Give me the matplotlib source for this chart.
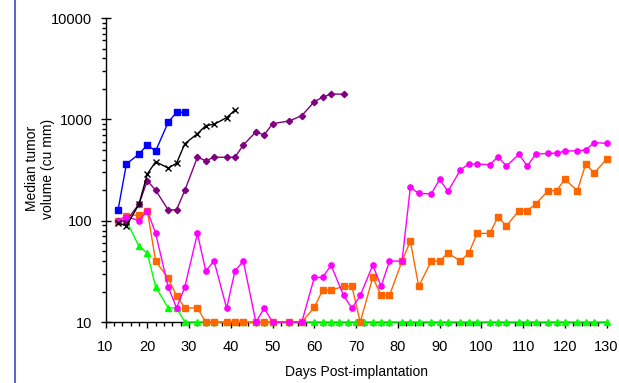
import matplotlib
matplotlib.use("Agg")
import matplotlib.pyplot as plt
from matplotlib.lines import Line2D
from matplotlib.ticker import LogLocator, FixedLocator, MultipleLocator, NullFormatter

plt.rcParams['font.family'] = ['Liberation Sans', 'DejaVu Sans']

# ---- data ----
blue_days = [13, 15, 18, 20, 22, 25, 27, 29]
blue_vals = [128, 363, 455, 559, 488, 936, 1175, 1175]

black_days = [13, 15, 18, 20, 22, 25, 27, 29, 32, 34, 36, 39, 41]
black_vals = [95, 89, 145, 289, 382, 331, 369, 576, 722, 866, 895, 1040, 1238]

purple_days = [13, 15, 18, 20, 22, 25, 27, 29, 32, 34, 36, 39, 41, 43, 46, 48, 50,
               54, 57, 60, 62, 64, 67]
purple_vals = [100, 100, 146, 248, 200, 128, 128, 200, 423, 391, 423, 423, 423, 559,
               751, 702, 907, 964, 1088, 1496, 1653, 1782, 1770]

green_days = [13, 15, 18, 20, 22, 25, 27, 29, 32, 34, 36, 39, 41, 43, 46, 48, 50, 54,
              57, 60, 62, 64, 66, 68, 70, 72, 74, 76, 78, 81, 83, 85, 88, 90, 92, 95,
              97, 99, 102, 104, 106, 109, 111, 113, 116, 118, 120, 123, 125, 127, 130]
green_vals = [100, 100, 56, 48, 22.3, 13.8, 13.8] + [10] * 44

orange_days = [13, 15, 18, 20, 22, 25, 27, 29, 32, 34, 36, 39, 41, 43, 46, 48, 50, 54,
               57, 60, 62, 64, 67, 69, 71, 74, 76, 78, 81, 83, 85, 88, 90, 92, 95, 97,
               99, 102, 104, 106, 109, 111, 113, 116, 118, 120, 123, 125, 127, 130]
orange_vals = [100, 112, 114, 126, 40, 27, 18.2, 13.8, 13.8, 10, 10, 10, 10, 10, 10,
               10, 10, 10, 10, 14, 20.7, 20.7, 22.5, 22.5, 10, 27.6, 18.3, 18.3, 40, 63,
               22.5, 40, 40, 48, 40, 48, 75, 75, 109, 89, 126, 126, 146, 198, 198, 256,
               198, 365, 294, 406]

pink_days = [13, 15, 18, 20, 22, 25, 27, 29, 32, 34, 36, 39, 41, 43, 46, 48, 50, 54, 57,
             60, 62, 64, 67, 69, 71, 74, 76, 78, 81, 83, 85, 88, 90, 92, 95, 97, 99,
             102, 104, 106, 109, 111, 113, 116, 118, 120, 123, 125, 127, 130]
pink_vals = [100, 110, 100, 126, 75, 22.3, 13.8, 22.3, 75, 32, 40, 13.7, 32, 40, 10,
             13.7, 10, 10, 10, 27.6, 27.6, 36.5, 18.3, 13.7, 18.3, 36.5, 22.5, 40, 40,
             214, 186, 184, 256, 195, 318, 363, 363, 357, 428, 347, 452, 347, 452, 463,
             463, 488, 488, 500, 590, 580]

x_ticks = [10, 20, 30, 40, 50, 60, 70, 80, 90, 100, 110, 120, 130]
y_ticks = [10, 100, 1000, 10000]
y_labels = ['10', '100', '1000', '10000']

# ---- figure ----
fig = plt.figure(figsize=(6.19, 3.83), dpi=100)
ax = fig.add_axes([0.1705, 0.159, 0.8095, 0.794])

ms = 3.8
ax.plot(green_days, green_vals, color='#00FF00', marker='^', ms=ms, lw=1, clip_on=False, zorder=3)
ax.plot(orange_days, orange_vals, color='#FF6600', marker='s', ms=ms, lw=1, clip_on=False, zorder=4)
ax.plot(pink_days, pink_vals, color='#FF00FF', marker='o', ms=ms, lw=1, clip_on=False, zorder=5)
ax.plot(purple_days, purple_vals, color='#800080', marker='D', ms=3.2, lw=1, clip_on=False, zorder=4)
ax.plot(black_days, black_vals, color='black', marker='x', ms=ms, mew=1, lw=1, clip_on=False, zorder=6)
ax.plot(blue_days, blue_vals, color='#0000FF', marker='s', ms=ms, lw=1, clip_on=False, zorder=6)

ax.set_yscale('log')
ax.set_ylim(10, 10000)
ax.set_xlim(10, 130)

ax.yaxis.set_major_locator(FixedLocator(y_ticks))
ax.set_yticklabels(y_labels)
ax.yaxis.set_minor_locator(LogLocator(base=10, subs=range(2, 10)))
ax.yaxis.set_minor_formatter(NullFormatter())
ax.set_xticks(x_ticks)
ax.xaxis.set_minor_locator(MultipleLocator(2))

for s in ['top', 'right']:
    ax.spines[s].set_visible(False)
for s in ['left', 'bottom']:
    ax.spines[s].set_linewidth(1.0)
    ax.spines[s].set_color('black')

ax.tick_params(axis='both', which='major', direction='out', length=4, width=1,
               labelsize=10.5)
ax.tick_params(axis='both', which='minor', direction='out', length=3, width=1)
ax.tick_params(axis='x', which='major', pad=9)
ax.tick_params(axis='y', which='major', direction='inout', length=7, pad=6)

ax.set_xlabel('Days Post-implantation', fontsize=10, labelpad=8)
ax.set_ylabel('Median tumor\nvolume (cu mm)', fontsize=10)
ax.yaxis.set_label_coords(-0.1, 0.505)

fig.add_artist(Line2D([14.5 / 619, 14.5 / 619], [0, 1], color='#4444CC', lw=1.2,
                      transform=fig.transFigure))

fig.savefig('out.png', dpi=100)
